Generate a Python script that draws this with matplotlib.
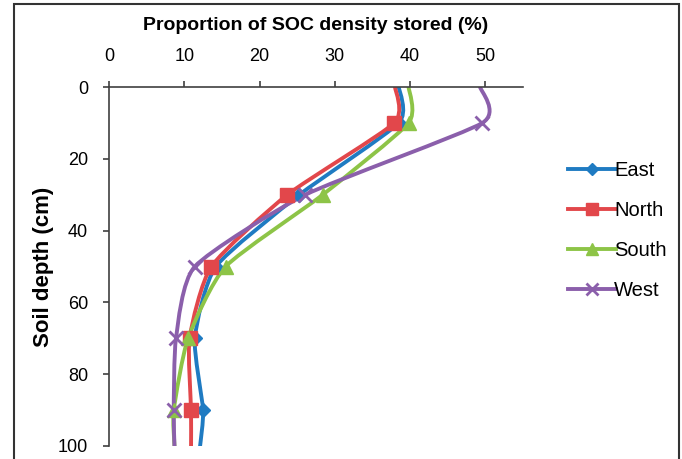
import numpy as np
import matplotlib
matplotlib.use("Agg")
import matplotlib.pyplot as plt
from matplotlib.path import Path
from matplotlib.patches import PathPatch, Rectangle
from matplotlib.lines import Line2D

plt.rcParams['font.family'] = ['Liberation Sans', 'DejaVu Sans']

depth = [0, 10, 30, 50, 70, 90, 100]
east = [38.5, 38.5, 25.3, 14.2, 11.4, 12.5, 12.1]
north = [38.0, 37.9, 23.7, 13.6, 10.7, 10.9, 10.9]
south = [39.8, 39.8, 28.4, 15.5, 10.5, 8.6, 8.7]
west = [49.3, 49.6, 26.1, 11.4, 8.9, 8.6, 8.7]
series_names = ["East", "North", "South", "West"]

colors = ["#1f7bc2", "#e2474b", "#8dc447", "#8b5fab"]
markers = ["D", "s", "^", "x"]
msizes = [7, 10, 10, 10]


def smooth_path(xs, ys, k=0.6):
    pts = np.column_stack([xs, ys]).astype(float)
    n = len(pts)
    verts = [pts[0]]
    codes = [Path.MOVETO]
    for i in range(n - 1):
        p0 = pts[i - 1] if i > 0 else pts[i]
        p1 = pts[i]
        p2 = pts[i + 1]
        p3 = pts[i + 2] if i + 2 < n else pts[i + 1]
        c1 = p1 + k * (p2 - p0) / 6.0
        c2 = p2 - k * (p3 - p1) / 6.0
        verts += [c1, c2, p2]
        codes += [Path.CURVE4] * 3
    return Path(verts, codes)


fig = plt.figure(figsize=(6.82, 4.59), dpi=100)
ax = fig.add_axes([109 / 682, 1 - 446 / 459, (523 - 109) / 682, (446 - 87) / 459])

handles = []
for name, vals, c, m, ms in zip(series_names, [east, north, south, west], colors, markers, msizes):
    path = smooth_path(vals, depth)
    ax.add_patch(PathPatch(path, facecolor="none", edgecolor=c, lw=2.8,
                           capstyle="round", joinstyle="round", zorder=2))
    mew = 2 if m == "x" else 1
    ax.plot(vals[1:-1], depth[1:-1], linestyle="none", marker=m, ms=ms,
            color=c, mec=c, mew=mew, zorder=3)
    handles.append(Line2D([], [], color=c, lw=2.8, marker=m, ms=ms * 0.85, mew=mew, mec=c))

ax.set_xlim(0, 55)
ax.set_ylim(100, 0)
ax.xaxis.tick_top()
ax.xaxis.set_label_position("top")
ax.set_xticks([0, 10, 20, 30, 40, 50])
ax.set_yticks([0, 20, 40, 60, 80, 100])
ax.spines["bottom"].set_visible(False)
ax.spines["right"].set_visible(False)
for s in ["top", "left"]:
    ax.spines[s].set_color("#404040")
    ax.spines[s].set_linewidth(1.2)
ax.tick_params(axis="x", direction="out", length=4, width=1.2, color="#404040",
               labelsize=13, pad=12)
ax.tick_params(axis="y", direction="out", length=4, width=1.2, color="#404040",
               labelsize=13, pad=11)
ax.set_xlabel("Proportion of SOC density stored (%)", fontsize=14,
              fontweight="bold", labelpad=13)
ax.set_ylabel("Soil depth (cm)", fontsize=16, fontweight="bold", labelpad=3)

fig.legend(handles, series_names, loc="upper left", bbox_to_anchor=(560 / 682, 1 - 153 / 459),
           frameon=False, fontsize=14.5, handlelength=2.4, labelspacing=1.05,
           handletextpad=-0.1, borderaxespad=0)

fig.add_artist(Rectangle((14 / 682, -0.05), (679 - 14) / 682, 1.05 - 4 / 459,
                         transform=fig.transFigure, fill=False,
                         edgecolor="#333333", lw=1.5))

fig.savefig("out.png", dpi=100)
